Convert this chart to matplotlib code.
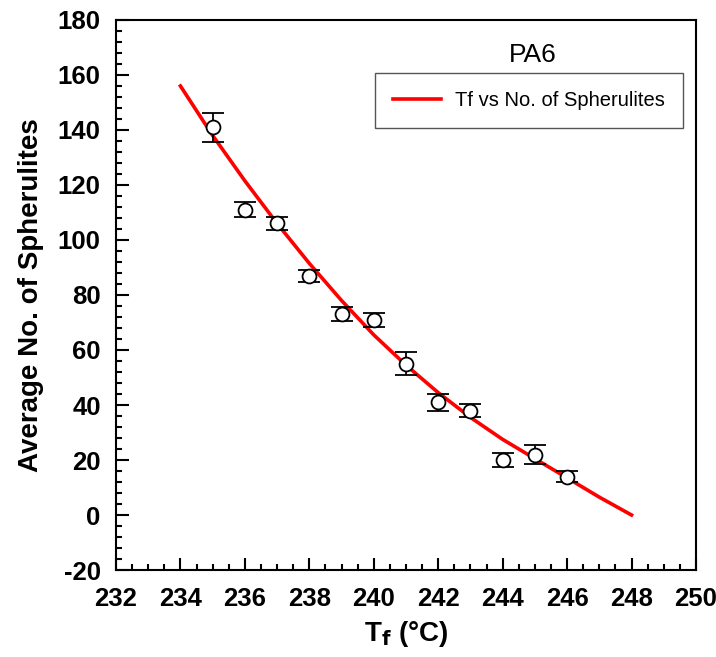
import matplotlib
matplotlib.use("Agg")
import matplotlib.pyplot as plt
from matplotlib.ticker import MultipleLocator

plt.rcParams['font.family'] = ['Liberation Sans', 'DejaVu Sans']
plt.rcParams['axes.unicode_minus'] = False

# measured points
tf = [235, 236, 237, 238, 239, 240, 241, 242, 243, 244, 245, 246]
avg_sph = [141, 111, 106, 87, 73, 71, 55, 41, 38, 20, 22, 14]
err = [5.3, 2.8, 2.5, 2.2, 2.5, 2.5, 4.2, 3.0, 2.4, 2.5, 3.5, 2.0]

# fitted curve
fit_tf = [234, 235, 236, 237, 238, 239, 240, 241, 242, 243, 244, 245, 246, 247, 248]
fit_sph = [156, 138, 121.5, 106, 91.5, 78, 65.5, 54.5, 44.5, 35.5, 27.5, 20.5, 13.5, 6.5, 0]

fig = plt.figure(figsize=(7.16, 6.57), dpi=100)
ax = fig.add_axes([0.162, 0.1324, 0.81, 0.8372])

ax.plot(fit_tf, fit_sph, color='red', lw=2.6, label='Tf vs No. of Spherulites', zorder=2)
ax.errorbar(tf, avg_sph, yerr=err, fmt='o', mfc='white', mec='black', mew=1.3,
            ms=10, ecolor='black', elinewidth=1.3, capsize=8, capthick=1.3, zorder=3)

ax.set_xlim(232, 250)
ax.set_ylim(-20, 180)
ax.xaxis.set_major_locator(MultipleLocator(2))
ax.xaxis.set_minor_locator(MultipleLocator(0.5))
ax.yaxis.set_major_locator(MultipleLocator(20))
ax.yaxis.set_minor_locator(MultipleLocator(4))
ax.tick_params(which='both', direction='in', top=False, right=False, width=1.5)
ax.tick_params(which='major', length=9, labelsize=18.5)
ax.tick_params(axis='x', which='major', pad=12)
ax.tick_params(axis='y', which='major', pad=11)
ax.tick_params(which='minor', length=4.5)
for lab in ax.get_xticklabels() + ax.get_yticklabels():
    lab.set_fontweight('bold')
for s in ax.spines.values():
    s.set_linewidth(1.5)

ax.set_xlabel(r'T$_\mathbf{f}$ (°C)', fontsize=20, fontweight='bold', labelpad=6)
ax.set_ylabel('Average No. of Spherulites', fontsize=20, fontweight='bold', labelpad=10)

ax.text(0.719, 0.936, 'PA6', transform=ax.transAxes, fontsize=19, ha='center', va='center')
leg = ax.legend(loc='upper right', bbox_to_anchor=(0.978, 0.904), borderaxespad=0,
                fontsize=14.5, fancybox=False, framealpha=1, edgecolor='#555555',
                handlelength=2.4, borderpad=0.9, handletextpad=0.7)
leg.get_frame().set_linewidth(1.0)

fig.savefig('out.png', dpi=100)
